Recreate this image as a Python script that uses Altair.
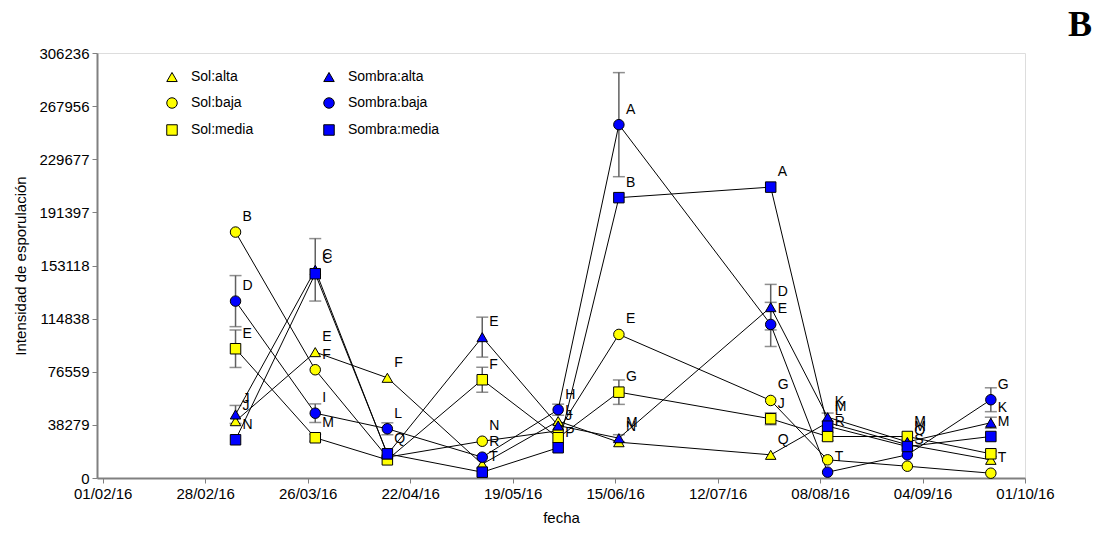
import altair as alt
import pandas as pd

# ---- data ----
dates = ["2016-03-07", "2016-03-28", "2016-04-16", "2016-05-11", "2016-05-31",
         "2016-06-16", "2016-07-26", "2016-08-10", "2016-08-31", "2016-09-22"]

series_names = ["Sol:alta", "Sol:baja", "Sol:media",
                "Sombra:alta", "Sombra:baja", "Sombra:media"]

sol_alta = [40950, 90700, 72200, 10000, 41000, 25800, 16700, 40000, 24000, 13100]
sol_baja = [177200, 78000, 15000, 26500, 34000, 103450, 55870, 13100, 8500, 3460]
sol_media = [93140, 29000, 13100, 70800, 29000, 61850, 42680, 29900, 29900, 17450]
sombra_alta = [45780, 150000, 17000, 101500, 37800, 28700, 123100, 43800, 26000, 39800]
sombra_baja = [127450, 46700, 35470, 15000, 49200, 254600, 110660, 4200, 16700, 56400]
sombra_media = [27540, 147200, 17450, 4200, 21800, 202000, 209600, 37340, 22700, 29900]

err_sol_alta = [0, 0, 0, 0, 0, 0, 0, 0, 0, 0]
err_sol_baja = [0, 0, 0, 0, 0, 0, 0, 0, 0, 0]
err_sol_media = [13500, 2500, 0, 9000, 0, 8800, 4300, 3000, 0, 2000]
err_sombra_alta = [6500, 22500, 0, 14400, 0, 2500, 16400, 3000, 0, 4000]
err_sombra_baja = [18400, 6700, 4300, 0, 4000, 37500, 15900, 0, 0, 8600]
err_sombra_media = [0, 0, 0, 0, 0, 0, 0, 0, 0, 0]

lab_sol_alta = ["J", "E", "F", "", "", "N", "Q", "M", "", ""]
lab_sol_baja = ["B", "F", "", "N", "J", "E", "G", "", "", "T"]
lab_sol_media = ["E", "M", "", "F", "", "G", "J", "R", "M", ""]
lab_sombra_alta = ["J", "C", "", "E", "L", "M", "D", "K", "M", "K"]
lab_sombra_baja = ["D", "I", "L", "R", "H", "A", "E", "T", "S", "G"]
lab_sombra_media = ["N", "C", "Q", "T", "P", "B", "A", "L", "O", "M"]

y_ticks = [0, 38279.5, 76559, 114838.5, 153118, 191397.5, 229677, 267956.5, 306236]
x_tick_days = [(2, 1), (2, 28), (3, 26), (4, 22), (5, 19), (6, 15), (7, 12), (8, 8), (9, 4), (10, 1)]

series_colors = ["#ffff00", "#ffff00", "#ffff00", "#0000ff", "#0000ff", "#0000ff"]
series_shapes = ["triangle-up", "circle", "square", "triangle-up", "circle", "square"]

# ---- build tables ----
values = [sol_alta, sol_baja, sol_media, sombra_alta, sombra_baja, sombra_media]
errors = [err_sol_alta, err_sol_baja, err_sol_media, err_sombra_alta, err_sombra_baja, err_sombra_media]
labels = [lab_sol_alta, lab_sol_baja, lab_sol_media, lab_sombra_alta, lab_sombra_baja, lab_sombra_media]

rows = []
for name, vals, errs, labs in zip(series_names, values, errors, labels):
    for d, v, e, l in zip(dates, vals, errs, labs):
        rows.append({"fecha": d, "serie": name, "valor": v, "err": e,
                     "lo": v - e, "hi": v + e, "letra": l})
df = pd.DataFrame(rows)
df_err = df[df["err"] > 0].copy()
caps = pd.concat([
    df_err.assign(cap=df_err["lo"]),
    df_err.assign(cap=df_err["hi"]),
])
df_lab = df[df["letra"] != ""]

FONT = "Liberation Sans"

x_scale = alt.Scale(type="utc",
                    domain=[alt.DateTime(year=2016, month=1, date=30, hours=12, utc=True),
                            alt.DateTime(year=2016, month=10, date=1, utc=True)],
                    nice=False)
y_scale = alt.Scale(domain=[0, 306236], nice=False, zero=True)

x_axis = alt.Axis(values=[alt.DateTime(year=2016, month=m, date=d, utc=True) for m, d in x_tick_days],
                  format="%d/%m/%y", title="fecha", grid=False,
                  labelFont=FONT, labelFontSize=15, titleFont=FONT, titleFontSize=15,
                  titleFontWeight="normal", labelColor="black", titleColor="black",
                  domainColor="#808080", domainWidth=2, tickColor="#808080", tickSize=5,
                  labelPadding=3, titlePadding=9, labelOverlap=False, labelFlush=False)
y_axis = alt.Axis(values=y_ticks, labelExpr="format(floor(datum.value), 'd')",
                  title="Intensidad de esporulación", grid=False,
                  labelFont=FONT, labelFontSize=15, titleFont=FONT, titleFontSize=15,
                  titleFontWeight="normal", labelColor="black", titleColor="black",
                  domainColor="#808080", domainWidth=2, tickColor="#808080", tickSize=5,
                  labelPadding=3, titlePadding=10, labelOverlap=False, labelFlush=False)

X = alt.X("fecha:T", scale=x_scale, axis=x_axis)
Y = alt.Y("valor:Q", scale=y_scale, axis=y_axis)

legend = alt.Legend(orient="none", legendX=68, legendY=17, columns=2, title=None,
                    labelFont=FONT, labelFontSize=14, labelColor="black",
                    symbolSize=110, symbolStrokeColor="black", symbolStrokeWidth=1,
                    labelOffset=12, columnPadding=67, rowPadding=11, padding=0)

color = alt.Color("serie:N", scale=alt.Scale(domain=series_names, range=series_colors),
                  legend=legend)
shape = alt.Shape("serie:N", scale=alt.Scale(domain=series_names, range=series_shapes),
                  legend=legend)

err_rules = alt.Chart(df_err).mark_rule(color="#606060", strokeWidth=1.5).encode(
    x=alt.X("fecha:T", scale=x_scale, axis=x_axis),
    y=alt.Y("lo:Q", scale=y_scale, axis=y_axis),
    y2="hi:Q",
)
err_caps = alt.Chart(caps).mark_tick(orient="horizontal", size=12, thickness=1.5,
                                     color="#606060").encode(
    x=alt.X("fecha:T", scale=x_scale, axis=x_axis),
    y=alt.Y("cap:Q", scale=y_scale, axis=y_axis),
)
lines = alt.Chart(df).mark_line(color="black", strokeWidth=1).encode(
    x=X, y=Y, detail="serie:N",
)
points = alt.Chart(df).mark_point(filled=True, size=110, stroke="black",
                                  strokeWidth=1, opacity=1).encode(
    x=X, y=Y, color=color, shape=shape,
)
texts = alt.Chart(df_lab).mark_text(align="left", baseline="middle", dx=7, dy=-15,
                                    font=FONT, fontSize=14, color="black").encode(
    x=X, y=Y, text="letra:N",
)

chart = alt.layer(err_rules, err_caps, lines, points, texts).properties(
    width=928, height=425,
    autosize=alt.AutoSizeParams(type="none"),
    padding={"left": 89, "top": 45, "right": 74, "bottom": 47},
    title=alt.TitleParams("B", anchor="end", frame="group", font="Liberation Serif",
                          fontSize=36, fontWeight="bold", color="black",
                          dx=67, offset=2),
).configure_view(stroke=None).configure(background="white")

chart.save("out.html", embed_options={"renderer": "svg", "actions": False})
